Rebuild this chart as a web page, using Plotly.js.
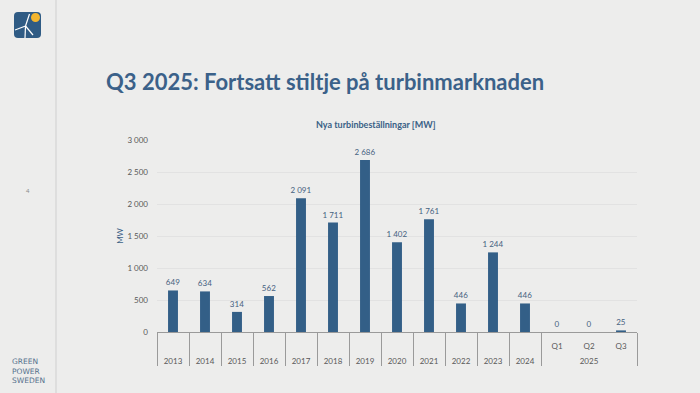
<!DOCTYPE html>
<html>
<head>
<meta charset="utf-8">
<script src="https://cdn.plot.ly/plotly-3.0.1.min.js"></script>
<style>
html,body{margin:0;padding:0;background:#ededec;}
#chart{width:700px;height:393px;}
</style>
</head>
<body>
<div id="chart"></div>
<script>
// Data
const yearGroups = ['2013','2014','2015','2016','2017','2018','2019','2020','2021','2022','2023','2024','2025','2025','2025'];
const periods    = ['','','','','','','','','','','','','Q1','Q2','Q3'];
const ordersMW   = [649,634,314,562,2091,1711,2686,1402,1761,446,1244,446,0,0,25];
const pageTitle  = 'Q3 2025: Fortsatt stiltje på turbinmarknaden';
const chartTitle = 'Nya turbinbeställningar [MW]';
const yTitle     = 'MW';
const brandLines = ['GREEN','POWER','SWEDEN'];
const pageNumber = '4';

// category keys, inner (period) labels and outer (year) groups derived from the arrays above
const catKeys = yearGroups.map((y,i) => periods[i] ? y + ' ' + periods[i] : y);
const innerVals = [], innerText = [];
periods.forEach((p,i) => { if (p) { innerVals.push(i); innerText.push(p); } });
const groupVals = [], groupText = [], bounds = [-0.5];
let start = 0;
for (let i = 1; i <= yearGroups.length; i++) {
  if (i === yearGroups.length || yearGroups[i] !== yearGroups[start]) {
    groupVals.push((start + i - 1) / 2);
    groupText.push(yearGroups[start]);
    bounds.push(i - 0.5);
    start = i;
  }
}
const xRange = [-0.5, yearGroups.length - 0.5];

// layout helpers (plot area spans 157..637 px horizontally, 140..332 px vertically)
const L = 157, R = 637, T = 140, B = 332;
const px = x => (x - L) / (R - L);
const py = y => (B - y) / (B - T);

const blue = '#335f87';
const font = 'Lato, "Open Sans", sans-serif';
const tickFont = {family: font, size: 8, color: '#595959'};

const bars = {
  type: 'bar',
  x: catKeys,
  y: ordersMW,
  marker: {color: blue},
  texttemplate: '%{y:,d}',
  textposition: 'outside',
  constraintext: 'none',
  textangle: 0,
  textfont: {family: font, size: 8, color: '#46617f'},
  cliponaxis: false,
  hoverinfo: 'skip'
};
// empty helper traces so the overlay axes (group labels, dividers) are drawn
const groupAxisTrace = {type:'scatter', x:[], y:[], xaxis:'x2', yaxis:'y', hoverinfo:'skip'};
const dividerAxisTrace = {type:'scatter', x:[], y:[], xaxis:'x3', yaxis:'y', hoverinfo:'skip'};

const shapes = [
  {type:'line', xref:'paper', yref:'paper', x0:px(56), x1:px(56), y0:py(0), y1:py(393), line:{color:'#cfcfcf', width:1}},
  {type:'path', xref:'paper', yref:'paper',
   path: (() => {
     const x0=14,x1=41,y0=12,y1=38,r=4;
     const P=(x,y)=>px(x)+','+py(y);
     return 'M'+P(x0+r,y0)+' L'+P(x1-r,y0)+' Q'+P(x1,y0)+' '+P(x1,y0+r)+' L'+P(x1,y1-r)+' Q'+P(x1,y1)+' '+P(x1-r,y1)+
            ' L'+P(x0+r,y1)+' Q'+P(x0,y1)+' '+P(x0,y1-r)+' L'+P(x0,y0+r)+' Q'+P(x0,y0)+' '+P(x0+r,y0)+' Z';
   })(),
   fillcolor:'#2f5b84', line:{width:0}},
  {type:'circle', xref:'paper', yref:'paper', x0:px(31), x1:px(40), y0:py(13), y1:py(22), fillcolor:'#f2b52f', line:{width:0}},
  {type:'line', xref:'paper', yref:'paper', x0:px(25.5), x1:px(29.5), y0:py(26), y1:py(14), line:{color:'#ffffff', width:1.2}},
  {type:'line', xref:'paper', yref:'paper', x0:px(25.5), x1:px(15), y0:py(26), y1:py(30), line:{color:'#ffffff', width:1.2}},
  {type:'line', xref:'paper', yref:'paper', x0:px(25.5), x1:px(33), y0:py(26), y1:py(35), line:{color:'#ffffff', width:1.2}},
  {type:'line', xref:'paper', yref:'paper', x0:px(25.5), x1:px(25), y0:py(26), y1:py(38), line:{color:'#ffffff', width:1.2}}
];

const annotations = [
  {text: chartTitle, xref:'paper', yref:'paper', x:px(376), y:py(124), xanchor:'center', yanchor:'middle', showarrow:false,
   font:{family:font, size:9, color:'#3a6186', weight:700}},
  {text: pageNumber, xref:'paper', yref:'paper', x:px(28), y:py(190), xanchor:'center', yanchor:'middle', showarrow:false,
   font:{family:font, size:6, color:'#8a8a8a'}}
].concat(brandLines.map((t,i) => ({
  text: t, xref:'paper', yref:'paper', x:px(10), y:py(361.5 + i*9.5), xanchor:'left', yanchor:'middle', showarrow:false,
  font:{family:'"DejaVu Sans", sans-serif', size:7.5, color:'#56718c'}
})));

const layout = {
  width: 700, height: 393,
  margin: {l: L, r: 700 - R, t: T, b: 393 - B, pad: 0},
  paper_bgcolor: '#ededec',
  plot_bgcolor: '#ededec',
  separators: ', ',
  showlegend: false,
  bargap: 0.69,
  font: {family: font, size: 8, color: '#595959'},
  title: {
    text: pageTitle, xref: 'container', yref: 'container',
    x: 106/700, xanchor: 'left', y: 1 - 82/393, yanchor: 'middle',
    font: {family: font, size: 22, color: '#3b6189', weight: 700}
  },
  xaxis: {
    type: 'category', range: xRange,
    tickmode: 'array', tickvals: innerVals, ticktext: innerText,
    showline: true, linecolor: '#9a9a9a', linewidth: 1,
    ticks: '', ticklabelstandoff: 6, tickfont: tickFont,
    showgrid: false, zeroline: false, fixedrange: true
  },
  xaxis2: {
    type: 'linear', overlaying: 'x', side: 'bottom', anchor: 'y', range: xRange,
    tickmode: 'array', tickvals: groupVals, ticktext: groupText,
    ticks: '', ticklabelstandoff: 23, tickfont: tickFont,
    showline: false, showgrid: false, zeroline: false, fixedrange: true
  },
  xaxis3: {
    type: 'linear', overlaying: 'x', side: 'bottom', anchor: 'y', range: xRange,
    tickmode: 'array', tickvals: bounds,
    ticks: 'outside', ticklen: 33, tickwidth: 1, tickcolor: '#9a9a9a',
    showticklabels: false, showline: false, showgrid: false, zeroline: false, fixedrange: true
  },
  yaxis: {
    range: [0, 3000], tickvals: [0,500,1000,1500,2000,2500,3000], tickformat: ',d',
    showgrid: true, gridcolor: '#e2e2e2', gridwidth: 1, zeroline: false,
    showline: false, ticks: '', ticklabelstandoff: 8,
    tickfont: tickFont,
    title: {text: yTitle, font: {family: font, size: 8, color: '#3a6186'}, standoff: 2},
    fixedrange: true
  },
  shapes: shapes,
  annotations: annotations
};

Plotly.newPlot('chart', [bars, groupAxisTrace, dividerAxisTrace], layout, {displayModeBar: false, staticPlot: true});
</script>
</body>
</html>
